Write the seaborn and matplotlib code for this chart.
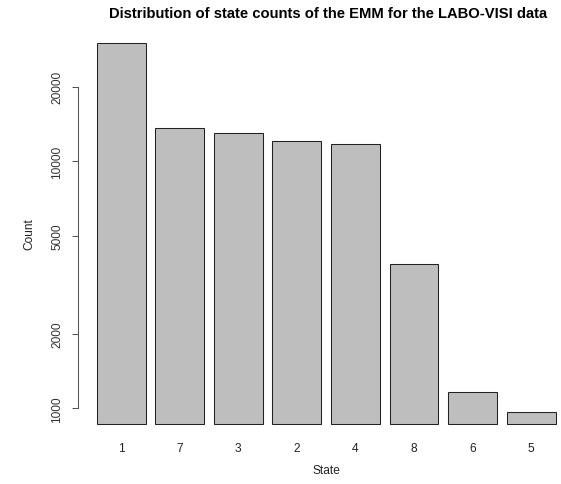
import numpy as np
import pandas as pd
import matplotlib
matplotlib.use("Agg")
import matplotlib.pyplot as plt
import matplotlib.ticker as mticker
import seaborn as sns

states = ["1", "7", "3", "2", "4", "8", "6", "5"]
counts = [30200, 13640, 13060, 12120, 11720, 3840, 1160, 963]
yticks = [1000, 2000, 5000, 10000, 20000]

df = pd.DataFrame({"State": states, "Count": counts})

sns.set_style("white")
plt.rcParams["font.family"] = ["Liberation Sans", "DejaVu Sans"]

fig = plt.figure(figsize=(5.61, 4.85), dpi=100)
ax = fig.add_axes([0.1396, 0.0930, 0.8836, 0.8484])

sns.barplot(data=df, x="State", y="Count", order=states, color="#BEBEBE",
            saturation=1, width=1/1.2, edgecolor="#222222", linewidth=0.75,
            errorbar=None, ax=ax)
ax.set_yscale("log")

base = 0.9 * min(counts)
for p in ax.patches:
    top = p.get_y() + p.get_height()
    p.set_y(base)
    p.set_height(top - base)

lo = np.log10(base)
hi = np.log10(max(counts))
span = hi - lo
ax.set_ylim(10 ** (lo - 0.04 * span), 10 ** (hi + 0.04 * span))
ax.set_xlim(-0.4167 - 0.3133, 7.4167 + 0.3133)

ax.yaxis.set_major_locator(mticker.FixedLocator(yticks))
ax.yaxis.set_major_formatter(mticker.FixedFormatter([str(t) for t in yticks]))
ax.yaxis.set_minor_locator(mticker.NullLocator())
ax.tick_params(axis="y", which="major", left=True, length=4.3, width=0.75,
               color="#555555", pad=6.5, labelsize=8.6, labelcolor="#333333",
               labelrotation=90)
for lab in ax.get_yticklabels():
    lab.set_va("center")
ax.tick_params(axis="x", bottom=False, length=0, labelsize=8.6,
               labelcolor="#222222", pad=2.5)

for s in ["top", "right", "bottom"]:
    ax.spines[s].set_visible(False)
ax.spines["left"].set_bounds(1000, 20000)
ax.spines["left"].set_color("#555555")
ax.spines["left"].set_linewidth(0.75)

ax.set_xlabel("State", fontsize=8.6, color="#222222", labelpad=7)
ax.set_ylabel("Count", fontsize=8.6, color="#222222", labelpad=11.5)

fig.text(0.5845, 0.971, "Distribution of state counts of the EMM for the LABO-VISI data",
         ha="center", va="center", fontsize=10.6, fontweight="bold", color="black")

fig.savefig("out.png", dpi=100)
